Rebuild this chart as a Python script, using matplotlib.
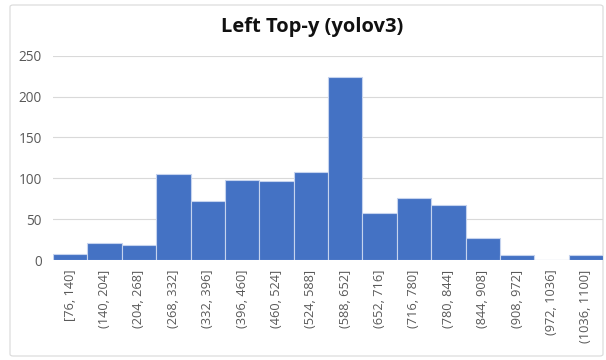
import matplotlib.pyplot as plt
from matplotlib.patches import FancyBboxPatch

edges = [76, 140, 204, 268, 332, 396, 460, 524, 588, 652, 716, 780, 844, 908, 972, 1036, 1100]
counts = [7, 21, 18, 105, 72, 98, 97, 108, 224, 58, 76, 67, 27, 6, 0, 6]

labels = [f'[{edges[0]}, {edges[1]}]'] + \
    [f'({a}, {b}]' for a, b in zip(edges[1:-1], edges[2:])]

plt.rcParams['font.family'] = ['Open Sans', 'DejaVu Sans']

fig = plt.figure(figsize=(6.06, 3.6), dpi=100)
# light rounded frame around the whole chart, kept behind the axes
fig.patches.append(FancyBboxPatch((10 / 606, 4 / 360), 593 / 606, 351 / 360,
                                  boxstyle='round,pad=0,rounding_size=0.005',
                                  transform=fig.transFigure, facecolor='white',
                                  edgecolor='#d9d9d9', linewidth=0.8, zorder=-1))

ax = fig.add_axes([53 / 606, 1 - 260 / 360, 550 / 606, 204.3 / 360])
ax.patch.set_alpha(0)
x = range(len(counts))
ax.bar(x, counts, width=1.0, color='#4472c4', edgecolor='#c5d3ee', linewidth=0.8, zorder=3)

ax.set_xlim(-0.5, len(counts) - 0.5)
ax.set_ylim(0, 250)
ax.set_yticks(range(0, 251, 50))
ax.set_xticks(list(x))
ax.set_xticklabels(labels, rotation=90, fontsize=9.2, color='#595959')
ax.tick_params(axis='y', labelsize=9.8, labelcolor='#595959', length=0, pad=8)
ax.tick_params(axis='x', length=0, pad=7)
ax.grid(axis='y', color='#d9d9d9', linewidth=0.8, zorder=0)
for s in ax.spines.values():
    s.set_visible(False)

fig.text(0.515, 1 - 27 / 360, 'Left Top-y (yolov3)', ha='center', va='center',
         fontsize=14.5, fontweight='bold', color='#111111')

fig.savefig('out.png', dpi=100)
